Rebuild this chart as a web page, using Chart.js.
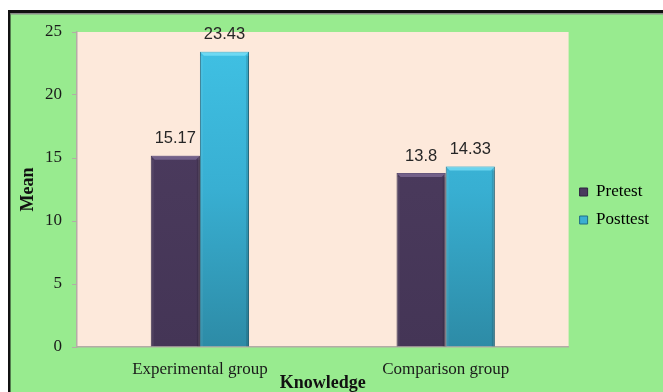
<!DOCTYPE html>
<html>
<head>
<meta charset="utf-8">
<script src="https://cdn.jsdelivr.net/npm/chart.js@4/dist/chart.umd.min.js"></script>
<style>
  html, body { margin: 0; padding: 0; background: #ffffff; }
  #wrap { width: 663px; height: 392px; position: relative; }
  canvas { display: block; }
</style>
</head>
<body>
<div id="wrap"><canvas id="c" width="663" height="392"></canvas></div>
<script>
// Knowledge scores: group means before and after
const categories = ['Experimental group', 'Comparison group'];
const pretest = [15.17, 13.8];
const posttest = [23.43, 14.33];
const yTicks = [0, 5, 10, 15, 20, 25];

const GREEN = '#98eb8f';
const PEACH = '#fde9db';
const AXIS = '#b3aca6';

// Frame, outer fill and plot-area fill
const framePlugin = {
  id: 'frame',
  beforeDraw(chart) {
    const { ctx, width, height, chartArea: a } = chart;
    ctx.save();
    ctx.fillStyle = '#ffffff';
    ctx.fillRect(0, 0, width, height);
    ctx.fillStyle = GREEN;
    ctx.fillRect(10, 13, width - 10, height - 13);
    ctx.fillStyle = '#111111';
    ctx.fillRect(8, 10, width - 8, 3);
    ctx.fillRect(8, 10, 2.5, height - 10);
    ctx.fillStyle = '#8a8a8a';
    ctx.fillRect(10.5, 13, width - 10.5, 1.5);
    ctx.fillStyle = PEACH;
    ctx.fillRect(a.left, a.top, a.right - a.left, a.bottom - a.top);
    ctx.restore();
  }
};

// Bevel highlight on bar tops and value labels above bars
const barDecor = {
  id: 'barDecor',
  afterDatasetsDraw(chart) {
    const { ctx } = chart;
    ctx.save();
    chart.data.datasets.forEach((ds, di) => {
      const meta = chart.getDatasetMeta(di);
      meta.data.forEach((el, i) => {
        const { x, y, width, base } = el.getProps(['x', 'y', 'width', 'base'], true);
        const l = x - width / 2, r = x + width / 2;
        // top bevel
        ctx.fillStyle = di === 0 ? 'rgba(150,130,175,0.55)' : 'rgba(140,235,255,0.6)';
        ctx.beginPath();
        ctx.moveTo(l, y); ctx.lineTo(r, y); ctx.lineTo(r - 4, y + 4); ctx.lineTo(l + 4, y + 4);
        ctx.closePath(); ctx.fill();
        // side shading
        ctx.fillStyle = 'rgba(0,0,0,0.12)';
        ctx.fillRect(r - 3, y + 4, 3, base - y - 4);
        ctx.fillStyle = 'rgba(255,255,255,0.06)';
        ctx.fillRect(l, y + 4, 3, base - y - 4);
        // value label
        ctx.fillStyle = '#262626';
        ctx.font = '16.5px "Liberation Sans", Arial, sans-serif';
        ctx.textAlign = 'center';
        ctx.textBaseline = 'middle';
        ctx.fillText(String(ds.data[i]), x, y - 17);
      });
    });
    ctx.restore();
  }
};

function vGrad(ctx, top, mid, bottom, solid) {
  const chart = ctx.chart;
  const a = chart.chartArea;
  if (!a) return solid;
  const g = chart.ctx.createLinearGradient(0, a.top, 0, a.bottom);
  g.addColorStop(0, top);
  g.addColorStop(0.5, mid);
  g.addColorStop(1, bottom);
  return g;
}

new Chart(document.getElementById('c'), {
  type: 'bar',
  data: {
    labels: categories,
    datasets: [
      {
        label: 'Pretest',
        data: pretest,
        backgroundColor: (c) => vGrad(c, '#4e3c64', '#49395b', '#443556', '#49395b'),
        borderColor: '#2e2240',
        borderWidth: 1,
        borderSkipped: 'bottom',
        categoryPercentage: 0.4,
        barPercentage: 1.0
      },
      {
        label: 'Posttest',
        data: posttest,
        backgroundColor: (c) => vGrad(c, '#40c2e5', '#38afd2', '#2d8ba6', '#38afd2'),
        borderColor: '#1f6d85',
        borderWidth: 1,
        borderSkipped: 'bottom',
        categoryPercentage: 0.4,
        barPercentage: 1.0
      }
    ]
  },
  options: {
    responsive: false,
    animation: false,
    layout: { padding: { top: 32, right: 4, bottom: 12, left: 0 } },
    plugins: {
      tooltip: { enabled: false },
      legend: {
        position: 'right',
        align: 'center',
        labels: {
          boxWidth: 8,
          boxHeight: 8,
          padding: 11,
          color: '#111111',
          font: { family: '"Liberation Serif", "Times New Roman", serif', size: 17 },
          generateLabels(chart) {
            return chart.data.datasets.map((ds, i) => ({
              text: ds.label,
              fillStyle: i === 0 ? '#4a3a5e' : '#3aaed2',
              strokeStyle: i === 0 ? '#2e2240' : '#1f6d85',
              lineWidth: 1,
              datasetIndex: i,
              hidden: false
            }));
          }
        }
      }
    },
    scales: {
      x: {
        grid: { drawOnChartArea: false, drawTicks: false },
        border: { color: AXIS, width: 1.5 },
        ticks: {
          padding: 12,
          color: '#1a1a1a',
          font: { family: '"Liberation Serif", "Times New Roman", serif', size: 17 }
        },
        title: {
          display: true,
          text: 'Knowledge',
          color: '#111111',
          padding: { top: 0, bottom: -14 },
          font: { family: '"Liberation Serif", "Times New Roman", serif', size: 18, weight: 'bold' }
        },
        afterFit(scale) { scale.height = 33; }
      },
      y: {
        min: 0,
        max: 25,
        afterBuildTicks(scale) { scale.ticks = yTicks.map(v => ({ value: v })); },
        grid: { drawOnChartArea: false, drawTicks: true, tickLength: 5, color: AXIS },
        border: { color: AXIS, width: 1.5 },
        ticks: {
          padding: 10,
          color: '#1a1a1a',
          font: { family: '"Liberation Serif", "Times New Roman", serif', size: 17 }
        },
        title: {
          display: true,
          text: 'Mean',
          color: '#111111',
          padding: { top: 18, bottom: 0 },
          font: { family: '"Liberation Serif", "Times New Roman", serif', size: 18, weight: 'bold' }
        },
        afterFit(scale) { scale.width = 77; }
      }
    }
  },
  plugins: [framePlugin, barDecor]
});
</script>
</body>
</html>
